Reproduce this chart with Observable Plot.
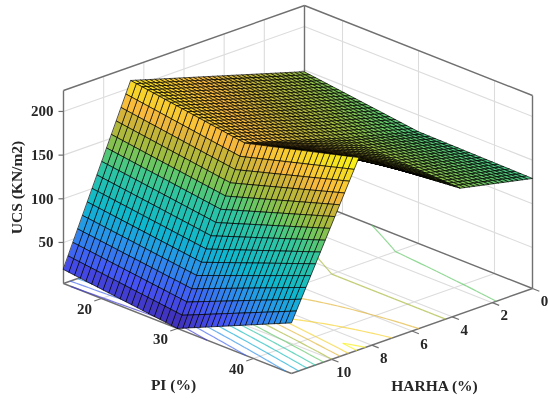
<!DOCTYPE html>
<html>
<head>
<meta charset="utf-8">
<script src="https://cdn.jsdelivr.net/npm/d3@7"></script>
<script src="https://cdn.jsdelivr.net/npm/@observablehq/plot@0.6"></script>
<style>html,body{margin:0;padding:0;background:#fff;overflow:hidden}svg{display:block;filter:blur(.55px)}</style>
</head>
<body>
<div id="chart"></div>
<script>
// Values: UCS at the fold lines of the surface
const piKnots = [15, 30, 45];
const harhaKnots = [0, 3.6, 8.64, 12];
const ucsAtHarha0 = [148, 131, 129];
const ucsAtHarha3_6 = [173, 153, 147];
const ucsAtHarha8_64 = [208, 188, 223];
const ucsAtHarha12 = [19, 3, 61];
const piTicks = [20, 30, 40];
const harhaTicks = [0, 2, 4, 6, 8, 10];
const ucsTicks = [50, 100, 150, 200];
const contourLevels = [18, 38, 58, 78, 98, 118, 138, 158, 178, 198, 218];
const colorLevels = [3, 30, 60, 85, 122, 138, 152, 170, 184, 195, 208, 224];
const colorStops = ["#3e26a8", "#4653f5", "#2a92ec", "#0db7ce", "#2fc5a0", "#62c868", "#9cbc40", "#c8b438", "#f8b83d", "#f8cc30", "#f5e020", "#f9fb15"];

const ucsRows = [ucsAtHarha0, ucsAtHarha3_6, ucsAtHarha8_64, ucsAtHarha12];
const [piMin, piMax, hMin, hMax, zMin, zMax] = [15, 45, 0, 12, 3, 224];

// Orthographic 3-D view, as in the reference's axes box
const view = {ox: 304, oy: 198, ux: 228, uy: 90, vx: -241, vy: 85, zs: 193 / (zMax - zMin)};
const U = pi => (pi - piMin) / (piMax - piMin);
const V = h => (h - hMin) / (hMax - hMin);
const px = (pi, h) => view.ox + view.ux * U(pi) + view.vx * V(h);
const py = (pi, h, z) => view.oy + view.uy * U(pi) + view.vy * V(h) - (z - zMin) * view.zs;

// Surface height between the knots (flat facets, as the source surface has)
function ucs(pi, h) {
  const i = Math.min(d3.bisectRight(piKnots, pi) - 1, piKnots.length - 2);
  const j = Math.min(d3.bisectRight(harhaKnots, h) - 1, harhaKnots.length - 2);
  const s = (pi - piKnots[i]) / (piKnots[i + 1] - piKnots[i]);
  const t = (h - harhaKnots[j]) / (harhaKnots[j + 1] - harhaKnots[j]);
  const a = ucsRows[j][i] * (1 - s) + ucsRows[j][i + 1] * s;
  const b = ucsRows[j + 1][i] * (1 - s) + ucsRows[j + 1][i + 1] * s;
  return a * (1 - t) + b * t;
}

const piMesh = d3.range(41).map(i => piMin + i * 0.75);
const hMesh = d3.range(51).map(j => hMin + j * 0.24);

// Mesh faces, back to front
const faces = [];
let id = 0;
for (let j = 0; j < hMesh.length - 1; j++) {
  for (let i = 0; i < piMesh.length - 1; i++) {
    const c = [[i, j], [i + 1, j], [i + 1, j + 1], [i, j + 1]].map(([a, b]) => [piMesh[a], hMesh[b]]);
    const level = d3.mean(c, ([p, h]) => ucs(p, h));
    c.forEach(([p, h]) => faces.push({id, level, x: px(p, h), y: py(p, h, ucs(p, h))}));
    id++;
  }
}

// Floor contours by marching squares over the mesh
const segments = [];
for (const level of contourLevels) {
  for (let j = 0; j < hMesh.length - 1; j++) {
    for (let i = 0; i < piMesh.length - 1; i++) {
      const c = [[piMesh[i], hMesh[j]], [piMesh[i + 1], hMesh[j]], [piMesh[i + 1], hMesh[j + 1]], [piMesh[i], hMesh[j + 1]]];
      const hits = [];
      c.forEach((a, k) => {
        const b = c[(k + 1) % 4];
        const za = ucs(...a), zb = ucs(...b);
        if ((za < level) !== (zb < level)) {
          const t = (level - za) / (zb - za);
          hits.push([a[0] + (b[0] - a[0]) * t, a[1] + (b[1] - a[1]) * t]);
        }
      });
      for (let k = 0; k + 1 < hits.length; k += 2) {
        const [p, q] = [hits[k], hits[k + 1]];
        segments.push({level, x1: px(...p), y1: py(...p, zMin), x2: px(...q), y2: py(...q, zMin)});
      }
    }
  }
}

// Axes box and grid, all from the axis ranges and ticks
const P = (pi, h, z) => ({x: px(pi, h), y: py(pi, h, z)});
const seg = (a, b) => ({x1: a.x, y1: a.y, x2: b.x, y2: b.y});
const gridLines = [
  ...ucsTicks.flatMap(z => [seg(P(piMin, hMax, z), P(piMin, hMin, z)), seg(P(piMin, hMin, z), P(piMax, hMin, z))]),
  ...piTicks.flatMap(p => [seg(P(p, hMin, zMin), P(p, hMin, zMax)), seg(P(p, hMin, zMin), P(p, hMax, zMin))]),
  ...harhaTicks.filter(h => h > 0).flatMap(h => [seg(P(piMin, h, zMin), P(piMin, h, zMax)), seg(P(piMin, h, zMin), P(piMax, h, zMin))])
];
const boxLines = [
  seg(P(piMin, hMax, zMin), P(piMin, hMax, zMax)),
  seg(P(piMin, hMax, zMax), P(piMin, hMin, zMax)),
  seg(P(piMin, hMin, zMax), P(piMax, hMin, zMax)),
  seg(P(piMax, hMin, zMax), P(piMax, hMin, zMin)),
  seg(P(piMin, hMin, zMax), P(piMin, hMin, zMin)),
  seg(P(piMin, hMax, zMin), P(piMax, hMax, zMin)),
  seg(P(piMax, hMax, zMin), P(piMax, hMin, zMin)),
  seg(P(piMax, hMin, zMin), P(piMin, hMin, zMin)),
  seg(P(piMin, hMin, zMin), P(piMin, hMax, zMin))
];
const tickLines = [
  ...piTicks.map(p => seg(P(p, hMax, zMin), P(p, hMax * 1.03, zMin))),
  ...harhaTicks.map(h => seg(P(piMax, h, zMin), P(piMax + 0.9, h, zMin))),
  ...ucsTicks.map(z => ({x1: px(piMin, hMax) - 5, y1: py(piMin, hMax, z), x2: px(piMin, hMax), y2: py(piMin, hMax, z)}))
];

const font = {fontFamily: "Liberation Serif", fontWeight: "bold", fontSize: 15, fill: "#262626"};

const chart = Plot.plot({
  width: 548,
  height: 403,
  margin: 0,
  x: {domain: [0, 548], axis: null},
  y: {domain: [403, 0], axis: null},
  color: {type: "linear", domain: colorLevels, range: colorStops, interpolate: "rgb"},
  style: {background: "#fff"},
  marks: [
    Plot.link(gridLines, {x1: "x1", y1: "y1", x2: "x2", y2: "y2", stroke: "#dcdcdc", strokeWidth: 1.1}),
    Plot.link(boxLines, {x1: "x1", y1: "y1", x2: "x2", y2: "y2", stroke: "#707070", strokeWidth: 1.4}),
    Plot.link(tickLines, {x1: "x1", y1: "y1", x2: "x2", y2: "y2", stroke: "#707070", strokeWidth: 1.2}),
    Plot.link(segments, {x1: "x1", y1: "y1", x2: "x2", y2: "y2", stroke: "level", strokeWidth: 1.2, strokeOpacity: 0.7}),
    Plot.line(faces, {x: "x", y: "y", z: "id", fill: "level", stroke: "#000", strokeWidth: 0.8, strokeOpacity: 0.85, curve: "linear-closed"}),
    Plot.text(piTicks, {x: p => px(p, hMax) - 17, y: p => py(p, hMax, zMin) + 11, text: d => String(d), ...font}),
    Plot.text(harhaTicks, {x: h => px(piMax, h) + 12, y: h => py(piMax, h, zMin) + 13, text: d => String(d), ...font}),
    Plot.text(ucsTicks, {x: () => px(piMin, hMax) - 10, y: z => py(piMin, hMax, z), text: d => String(d), textAnchor: "end", ...font}),
    Plot.text(["UCS (KN/m2)"], {x: () => 17, y: () => 187, rotate: -90, ...font, fontSize: 15.5}),
    Plot.text(["PI (%)"], {x: () => 173, y: () => 385, ...font, fontSize: 15.5}),
    Plot.text(["HARHA (%)"], {x: () => 434, y: () => 386, ...font, fontSize: 15.5})
  ]
});
document.getElementById("chart").append(chart);
</script>
</body>
</html>
